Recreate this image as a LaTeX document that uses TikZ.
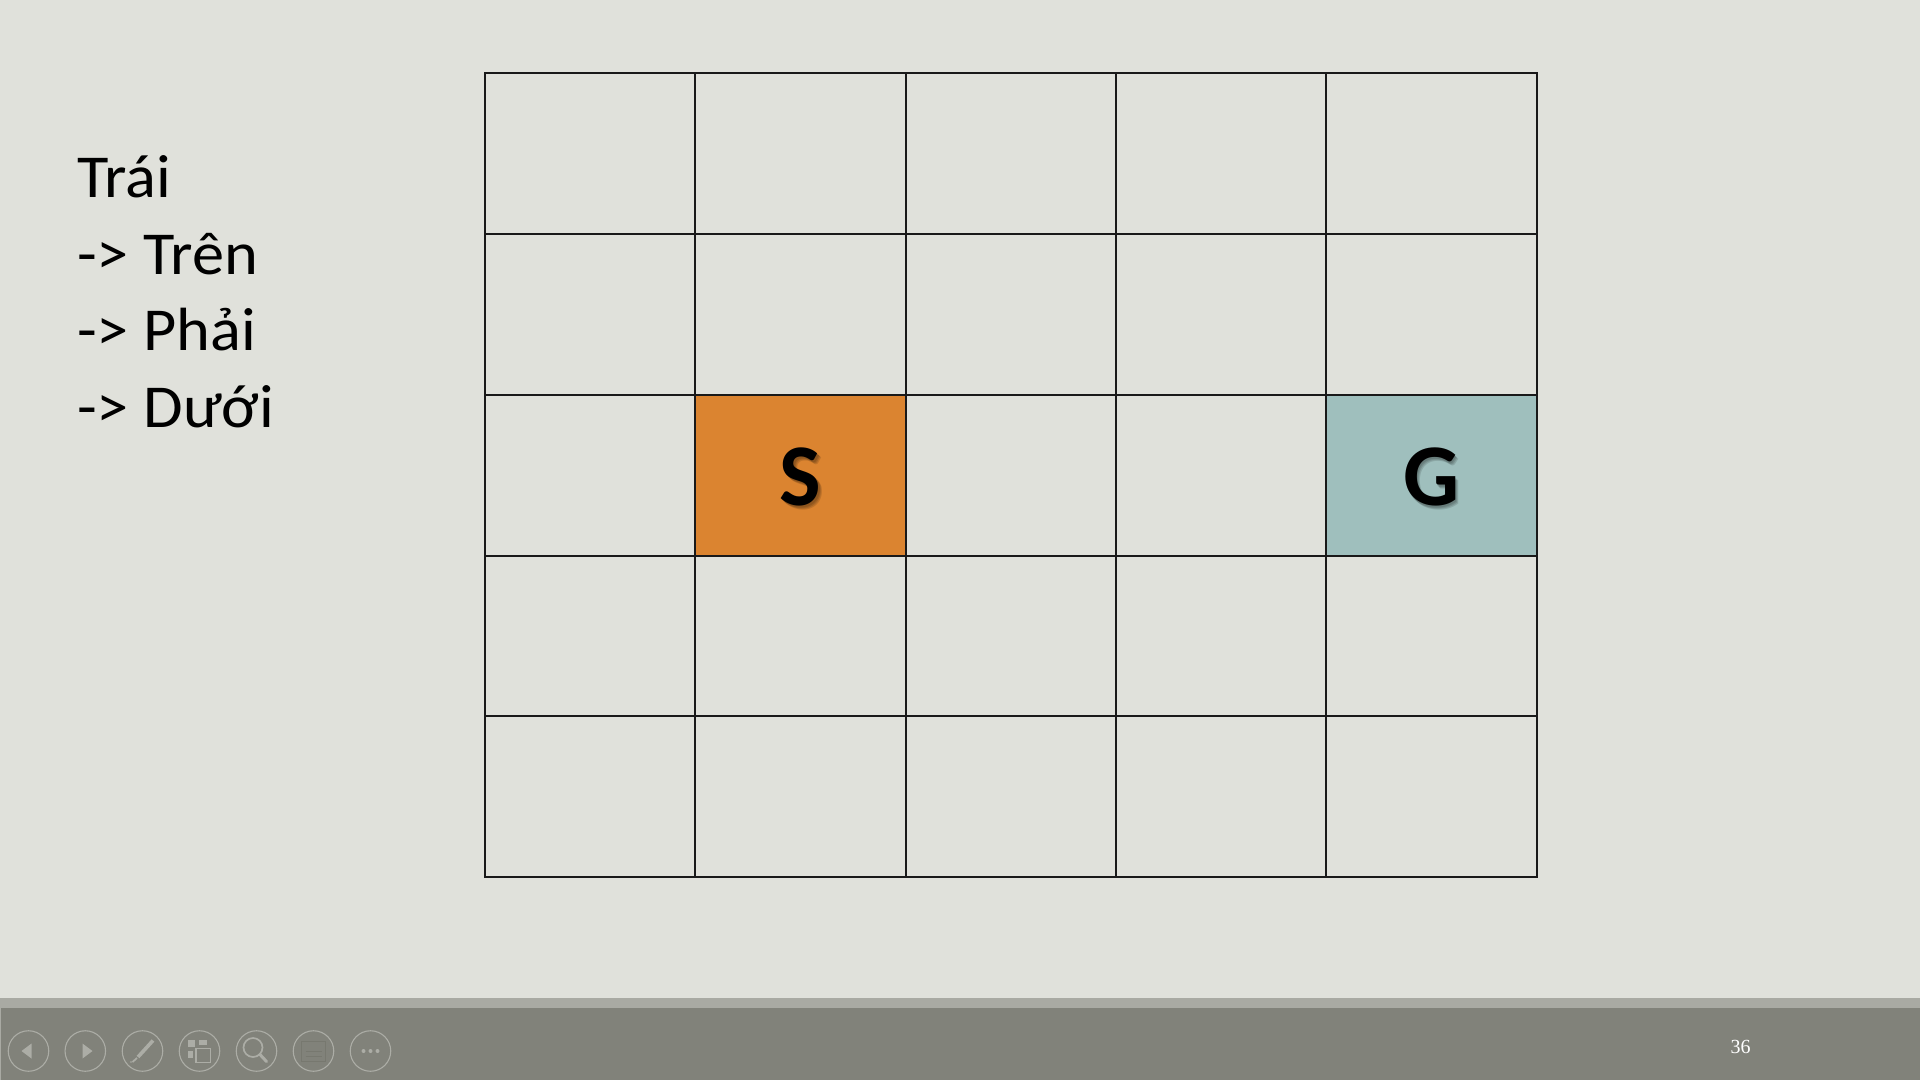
\documentclass[tikz,border=0pt]{standalone}
\usepackage{fontspec}
\setmainfont{Carlito}
\newfontfamily\listfont[FakeStretch=1.055]{Carlito}
\newfontfamily\numfont{Liberation Serif}
\definecolor{pagebg}{HTML}{E0E1DB}
\definecolor{startfill}{HTML}{DB8430}
\definecolor{goalfill}{HTML}{9FBFBD}
\definecolor{barfill}{HTML}{81827A}
\definecolor{stripfill}{HTML}{A9AAA3}
\definecolor{iconcol}{HTML}{ACADA6}
\definecolor{icondim}{HTML}{77786F}
\tikzset{
  gridline/.style={line width=2pt,draw=black!90!white,line cap=rect},
  listtext/.style={anchor=base west,inner sep=0pt,font=\listfont\fontsize{61}{61}\selectfont,text=black},
  letter/.style={anchor=center,inner sep=0pt,font=\fontsize{88}{88}\selectfont\bfseries,text=black},
  lettershade/.style={letter,opacity=0.13},
  navring/.style={circle,draw=iconcol,line width=1.1pt,minimum size=40.5pt,inner sep=0pt},
  iconfill/.style={fill=iconcol,draw=none},
  iconline/.style={draw=iconcol,fill=none},
}
\begin{document}
\begin{tikzpicture}[x=1pt,y=-1pt]
\useasboundingbox (0,0) rectangle (1920,1080);
\fill[pagebg] (0,0) rectangle (1920,1080);
% bottom bar
\fill[stripfill] (0,998) rectangle (1920,1008);
\fill[barfill] (0,1008) rectangle (1920,1080);
\fill[stripfill] (0,1008) rectangle (1,1080);
% coloured cells
\fill[startfill] (695,394.7) rectangle (905.7,555.6);
\fill[goalfill] (1326.3,394.7) rectangle (1536.8,555.6);
% grid
\foreach \gx in {484.7,695,905.7,1116,1326.3,1536.8}
  \draw[gridline] (\gx,73.3) -- (\gx,877);
\foreach \gy in {73.3,234,394.7,555.6,716.3,877}
  \draw[gridline] (484.7,\gy) -- (1536.8,\gy);
% cell letters
\foreach \sft in {1.5,2.5,3.5}{
  \node[lettershade] at (800.7+\sft,477+\sft) {S};
  \node[lettershade] at (1431.5+\sft,477+\sft) {G};
}
\node[letter] (startcell) at (800.7,477) {S};
\node[letter] (goalcell) at (1431.5,477) {G};
% list
\node[listtext] (l1) at (77,197) {Trái};
\node[listtext] (l2) at (77,274) {-> Trên};
\node[listtext] (l3) at (77,350.5) {-> Phải};
\node[listtext] (l4) at (77,427) {-> Dưới};
% page number
\node[anchor=base,inner sep=0pt,text=white,font=\numfont\fontsize{20}{20}\selectfont] (pagenum) at (1740.7,1053) {36};
% nav buttons
\node[navring] (b1) at (28.5,1051) {};
\node[navring] (b2) at (85.3,1051) {};
\node[navring] (b3) at (142.5,1051) {};
\node[navring] (b4) at (199.5,1051) {};
\node[navring] (b5) at (256.5,1051) {};
\node[navring] (b6) at (313.5,1051) {};
\node[navring] (b7) at (370.5,1051) {};
% back / forward
\fill[iconfill] (31.5,1043.5) -- (31.5,1058.5) -- (21.5,1051) -- cycle;
\fill[iconfill] (82.5,1043.5) -- (82.5,1058.5) -- (92.5,1051) -- cycle;
% pen
\draw[iconcol,line width=3.6pt] (153,1040.5) -- (138,1057);
\draw[iconcol,line width=1.8pt] (137,1058) -- (132.5,1062);
\fill[iconcol] (131,1062) circle (0.9pt);
% slides
\fill[iconfill] (187.5,1040) rectangle (194.5,1047);
\fill[iconfill] (198.5,1040) rectangle (207,1044.5);
\fill[iconfill] (187.5,1051) rectangle (192.5,1058);
\draw[iconcol,line width=1.6pt] (196,1048.5) rectangle (210.5,1062.5);
% zoom
\draw[iconcol,line width=1.7pt] (253,1047.5) circle (9.5pt);
\draw[iconcol,line width=3pt,line cap=round] (260,1054.5) -- (266.5,1061.5);
% subtitles (dim)
\draw[icondim,line width=1pt] (301.5,1041.5) rectangle (325.5,1061.5);
\foreach \ly in {1051.5,1056}
  \draw[icondim,line width=1pt] (305.5,\ly) -- (322,\ly);
% more
\fill[iconcol] (363.5,1051) circle (2pt);
\fill[iconcol] (370.5,1051) circle (2pt);
\fill[iconcol] (377.5,1051) circle (2pt);
\end{tikzpicture}
\end{document}
